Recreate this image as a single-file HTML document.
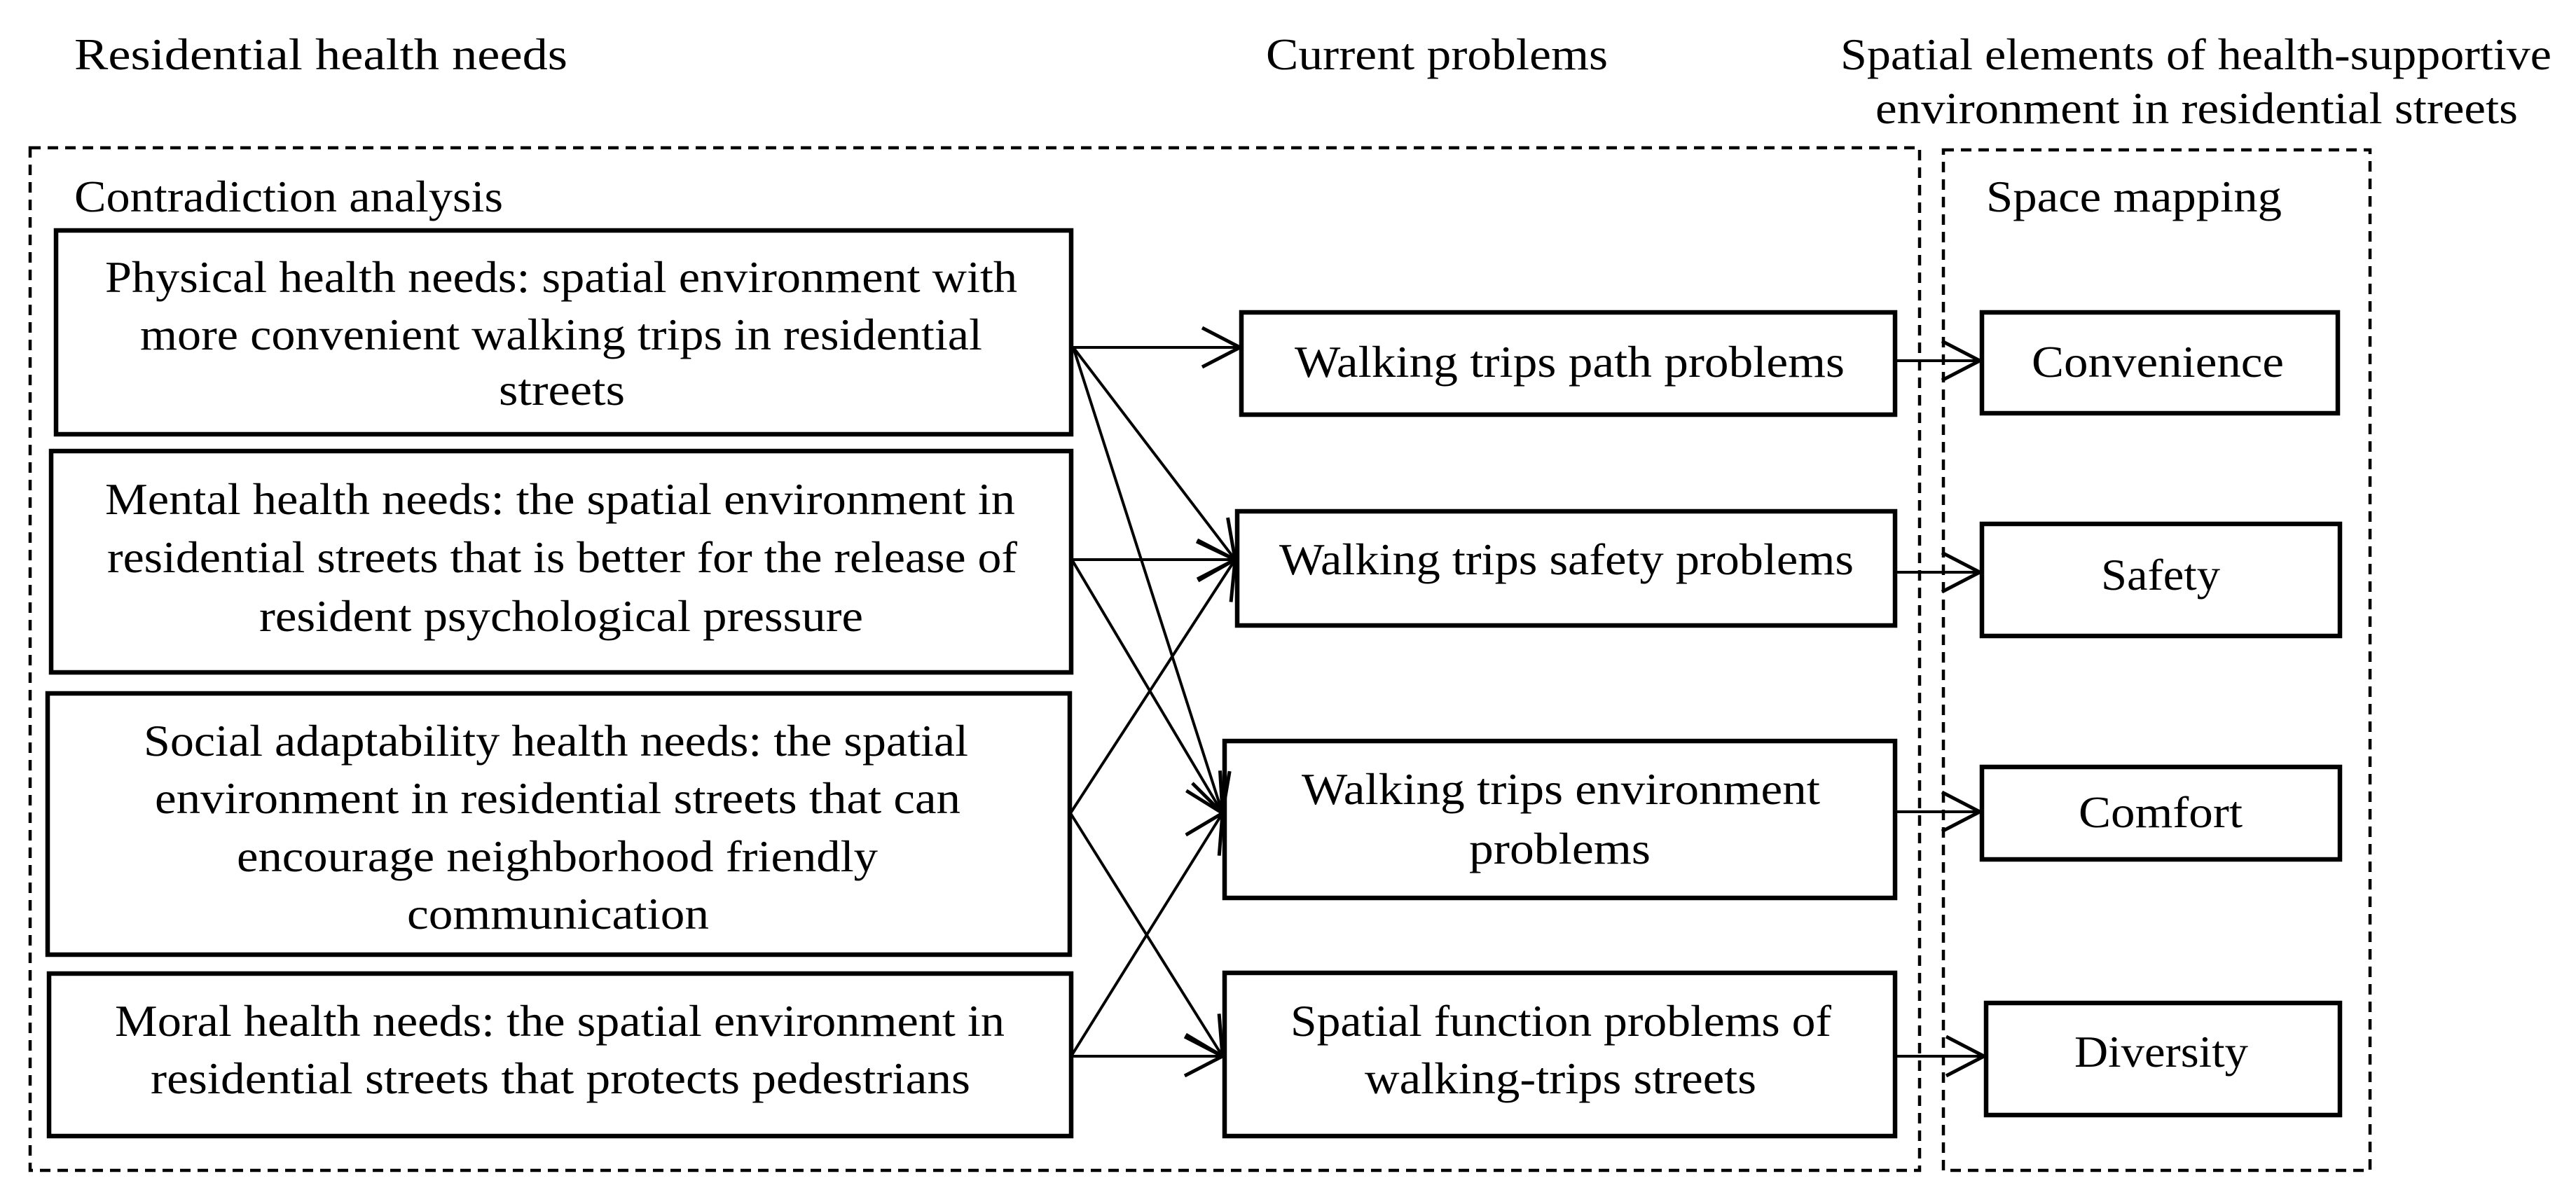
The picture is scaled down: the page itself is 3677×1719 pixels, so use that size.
<!DOCTYPE html>
<html><head><meta charset="utf-8"><style>
html,body{margin:0;padding:0;background:#fff;}
svg{display:block;}
text{font-family:"Liberation Serif",serif;font-size:64px;fill:#000;}
</style></head><body>
<svg width="3677" height="1719" viewBox="0 0 3677 1719" xmlns="http://www.w3.org/2000/svg">
<defs>
<marker id="a" viewBox="0 0 60 60" refX="58" refY="30" markerWidth="60" markerHeight="60" markerUnits="userSpaceOnUse" orient="auto">
<path d="M4,2 L58,30 L4,58" fill="none" stroke="#000" stroke-width="5"/>
</marker>
</defs>
<g fill="none" stroke="#000" stroke-width="4.5" stroke-dasharray="15 10">
<rect x="43" y="211" width="2697" height="1460"/>
<rect x="2774" y="214" width="609" height="1457"/>
</g>
<g fill="none" stroke="#000" stroke-width="6.5">
<rect x="80" y="329" width="1449" height="291"/>
<rect x="73" y="644" width="1456" height="316"/>
<rect x="68" y="990" width="1459" height="373"/>
<rect x="70" y="1390" width="1459" height="232"/>
<rect x="1772" y="446" width="933" height="146"/>
<rect x="1766" y="730" width="939" height="163"/>
<rect x="1748" y="1058" width="957" height="224"/>
<rect x="1748" y="1389" width="957" height="233"/>
<rect x="2829" y="446" width="508" height="144"/>
<rect x="2829" y="748" width="511" height="160"/>
<rect x="2829" y="1095" width="511" height="132"/>
<rect x="2835" y="1432" width="505" height="160"/>
</g>
<g stroke="#000" stroke-width="4" marker-end="url(#a)">
<line x1="1532" y1="496" x2="1770" y2="496"/>
<line x1="1532" y1="496" x2="1763" y2="799"/>
<line x1="1532" y1="496" x2="1745" y2="1161"/>
<line x1="1530" y1="799" x2="1763" y2="799"/>
<line x1="1530" y1="799" x2="1745" y2="1161"/>
<line x1="1528" y1="1161" x2="1763" y2="799"/>
<line x1="1528" y1="1161" x2="1745" y2="1508"/>
<line x1="1529" y1="1508" x2="1745" y2="1508"/>
<line x1="1529" y1="1508" x2="1745" y2="1161"/>
<line x1="2705" y1="515" x2="2826" y2="515"/>
<line x1="2705" y1="817" x2="2826" y2="817"/>
<line x1="2705" y1="1159" x2="2826" y2="1159"/>
<line x1="2705" y1="1508" x2="2832" y2="1508"/>
</g>
<g lengthAdjust="spacingAndGlyphs">
<text x="106" y="99" textLength="704" lengthAdjust="spacingAndGlyphs">Residential  health needs</text>
<text x="1807" y="99" textLength="488" lengthAdjust="spacingAndGlyphs">Current problems</text>
<text x="2627" y="99" textLength="1015" lengthAdjust="spacingAndGlyphs">Spatial elements of health-supportive</text>
<text x="2677" y="176" textLength="917" lengthAdjust="spacingAndGlyphs">environment in residential streets</text>
<text x="106" y="302" textLength="612" lengthAdjust="spacingAndGlyphs">Contradiction analysis</text>
<text x="2835" y="302" textLength="422" lengthAdjust="spacingAndGlyphs">Space mapping</text>
<text x="150" y="417" textLength="1302" lengthAdjust="spacingAndGlyphs">Physical health needs: spatial environment with</text>
<text x="200" y="499" textLength="1202" lengthAdjust="spacingAndGlyphs">more convenient walking trips in residential</text>
<text x="712" y="578" textLength="180" lengthAdjust="spacingAndGlyphs">streets</text>
<text x="150" y="734" textLength="1299" lengthAdjust="spacingAndGlyphs">Mental health needs: the spatial environment in</text>
<text x="153" y="817" textLength="1299" lengthAdjust="spacingAndGlyphs">residential streets that is better for the release of</text>
<text x="370" y="901" textLength="862" lengthAdjust="spacingAndGlyphs">resident psychological pressure</text>
<text x="205" y="1079" textLength="1177" lengthAdjust="spacingAndGlyphs">Social adaptability health needs: the spatial</text>
<text x="221" y="1161" textLength="1150" lengthAdjust="spacingAndGlyphs">environment in residential streets that can</text>
<text x="338" y="1244" textLength="915" lengthAdjust="spacingAndGlyphs">encourage neighborhood friendly</text>
<text x="581" y="1326" textLength="431" lengthAdjust="spacingAndGlyphs">communication</text>
<text x="164" y="1479" textLength="1270" lengthAdjust="spacingAndGlyphs">Moral health needs: the spatial environment in</text>
<text x="215" y="1561" textLength="1170" lengthAdjust="spacingAndGlyphs">residential streets that protects pedestrians</text>
<text x="1848" y="538" textLength="785" lengthAdjust="spacingAndGlyphs">Walking trips path problems</text>
<text x="1826" y="820" textLength="820" lengthAdjust="spacingAndGlyphs">Walking trips safety problems</text>
<text x="1858" y="1148" textLength="740" lengthAdjust="spacingAndGlyphs">Walking trips environment</text>
<text x="2097" y="1233" textLength="259" lengthAdjust="spacingAndGlyphs">problems</text>
<text x="1842" y="1479" textLength="772" lengthAdjust="spacingAndGlyphs">Spatial function problems of</text>
<text x="1948" y="1561" textLength="559" lengthAdjust="spacingAndGlyphs">walking-trips streets</text>
<text x="2900" y="538" textLength="360" lengthAdjust="spacingAndGlyphs">Convenience</text>
<text x="2999" y="842" textLength="170" lengthAdjust="spacingAndGlyphs">Safety</text>
<text x="2967" y="1181" textLength="234" lengthAdjust="spacingAndGlyphs">Comfort</text>
<text x="2961" y="1523" textLength="248" lengthAdjust="spacingAndGlyphs">Diversity</text>
</g>
</svg>
</body></html>
